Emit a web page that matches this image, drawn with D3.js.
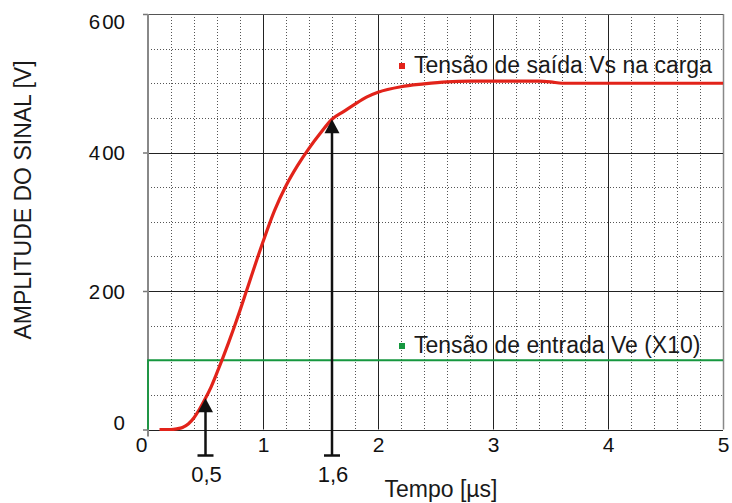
<!DOCTYPE html>
<html>
<head>
<meta charset="utf-8">
<script src="https://cdn.jsdelivr.net/npm/d3@7"></script>
<style>
  html, body { margin: 0; padding: 0; background: #fff; }
  svg { display: block; font-family: Arial, "Liberation Sans", sans-serif; }
</style>
</head>
<body>
<svg id="chart" width="732" height="503"></svg>
<script>
// Output voltage on the load (V) versus time (µs)
const timeVs = [0.1, 0.2, 0.25, 0.3, 0.35, 0.4, 0.45, 0.5, 0.55, 0.6, 0.65, 0.7, 0.75, 0.8, 0.85, 0.9, 0.95, 1.0,
                1.1, 1.2, 1.3, 1.4, 1.5, 1.6, 1.7, 1.8, 1.9, 2.0, 2.2, 2.4, 2.6, 2.8, 3.0, 3.2, 3.4, 3.5, 3.6, 3.8, 4.0, 4.5, 5.0];
const valueVs = [0, 0, 1, 3, 8, 17, 30, 45, 62, 82, 103, 125, 148, 172, 197, 222, 247, 271,
                 316, 352, 381, 406, 428, 448, 459, 470, 480, 487, 495, 499, 502, 503, 503, 503, 503, 502, 500, 500, 500, 500, 500];

// Input voltage (scaled ×10): a step at t = 0
const timeVe = [0, 0, 5];
const valueVe = [0, 100, 100];

// Rise-time markers (10 % and 90 % points)
const markerTimes = [0.5, 1.6];
const markerLabels = ["0,5", "1,6"];

const xTicks = [0, 1, 2, 3, 4, 5];
const yTicks = [0, 200, 400, 600];

const seriesNames = ["Tensão de saída Vs na carga", "Tensão de entrada Ve (X10)"];
const seriesColors = ["#e2231a", "#16973f"];

const TICK_FONT = 21;
const TITLE_FONT = 23;

const svg = d3.select("#chart");
const x = d3.scaleLinear().domain([0, 5]).range([148, 723]);
const y = d3.scaleLinear().domain([0, 600]).range([429.5, 14]);

// Minor dotted grid
const minorX = d3.range(0.2, 5, 0.2).filter(v => Math.abs(v - Math.round(v)) > 1e-6);
const minorY = d3.range(50, 600, 50).filter(v => v % 200 !== 0);
const grid = svg.append("g");
grid.selectAll(".mx").data(minorX).join("line")
  .attr("x1", d => Math.round(x(d)) + 0.5).attr("x2", d => Math.round(x(d)) + 0.5)
  .attr("y1", y(600)).attr("y2", y(0))
  .attr("stroke", "#555").attr("stroke-width", 1).attr("stroke-dasharray", "1,2");
grid.selectAll(".my").data(minorY).join("line")
  .attr("x1", x(0)).attr("x2", x(5))
  .attr("y1", d => Math.round(y(d)) + 0.5).attr("y2", d => Math.round(y(d)) + 0.5)
  .attr("stroke", "#555").attr("stroke-width", 1).attr("stroke-dasharray", "1,2");

// Major solid grid
grid.selectAll(".Mx").data(xTicks.slice(1)).join("line")
  .attr("x1", d => Math.round(x(d)) + 0.5).attr("x2", d => Math.round(x(d)) + 0.5)
  .attr("y1", y(600)).attr("y2", y(0))
  .attr("stroke", d => d === 5 ? "#888" : "#222").attr("stroke-width", d => d === 5 ? 1.5 : 1);
grid.selectAll(".My").data(yTicks).join("line")
  .attr("x1", x(0)).attr("x2", x(5))
  .attr("y1", d => Math.round(y(d)) + 0.5).attr("y2", d => Math.round(y(d)) + 0.5)
  .attr("stroke", d => d === 600 ? "#555" : "#222").attr("stroke-width", 1);

// Y axis
const yAxis = svg.append("g")
  .attr("transform", `translate(${x(0)},0)`)
  .call(d3.axisLeft(y).tickValues(yTicks).tickSize(5).tickPadding(18).tickFormat(d => d));
yAxis.select(".domain").remove();
yAxis.append("line").attr("x1", 0).attr("x2", 0).attr("y1", y(600)).attr("y2", y(0) + 7)
  .attr("stroke", "#888").attr("stroke-width", 2);
yAxis.selectAll(".tick line").attr("stroke", "#777").attr("stroke-width", 1.5);
yAxis.selectAll(".tick text")
  .attr("fill", "#111").attr("font-size", 20.5).attr("font-family", "Arial, 'Liberation Sans', sans-serif")
  .attr("dy", d => d === 600 ? "0.72em" : d === 0 ? "0.02em" : "0.35em")
  .each(function (d) {
    const s = String(d);
    const t = d3.select(this).text(null);
    if (s.length > 1) {
      t.append("tspan").text(s[0]);
      t.append("tspan").attr("dx", 2).text(s.slice(1));
    } else {
      t.text(s);
    }
  });

// X axis
const xAxis = svg.append("g")
  .attr("transform", `translate(0,${y(0)})`)
  .call(d3.axisBottom(x).tickValues(xTicks).tickSize(0).tickPadding(8).tickFormat(d => d));
xAxis.select(".domain").remove();
xAxis.selectAll(".tick text")
  .attr("fill", "#111").attr("font-size", TICK_FONT).attr("font-family", "Arial, 'Liberation Sans', sans-serif")
  .attr("dx", d => d === 0 ? -7 : 0);

// Series lines
const line = d3.line().x(d => x(d[0])).y(d => y(d[1]));
svg.append("path")
  .datum(d3.zip(timeVe, valueVe))
  .attr("d", line)
  .attr("fill", "none").attr("stroke", seriesColors[1]).attr("stroke-width", 1.8);

svg.append("path")
  .datum(d3.zip(timeVs, valueVs))
  .attr("d", line.curve(d3.curveMonotoneX))
  .attr("fill", "none").attr("stroke", seriesColors[0]).attr("stroke-width", 3.2)
  .attr("stroke-linecap", "butt");

// Rise-time arrows: from below the axis up to the curve
const vsAt = t => {
  const i = d3.bisectLeft(timeVs, t);
  const t0 = timeVs[i - 1], t1 = timeVs[i];
  return valueVs[i - 1] + (valueVs[i] - valueVs[i - 1]) * (t - t0) / (t1 - t0);
};
const arrows = svg.append("g");
markerTimes.forEach((t, i) => {
  const ax = x(t);
  const tipY = y(vsAt(t));
  const baseY = y(0) + 26;
  arrows.append("line").attr("x1", ax).attr("x2", ax).attr("y1", baseY).attr("y2", tipY + 12)
    .attr("stroke", "#111").attr("stroke-width", 2.5);
  arrows.append("line").attr("x1", ax - 8).attr("x2", ax + 8).attr("y1", baseY).attr("y2", baseY)
    .attr("stroke", "#111").attr("stroke-width", 2.5);
  arrows.append("path")
    .attr("d", `M${ax},${tipY} L${ax + 7.5},${tipY + 14} L${ax - 7.5},${tipY + 14} Z`)
    .attr("fill", "#111");
  arrows.append("text").attr("x", ax + 1).attr("y", 482)
    .attr("text-anchor", "middle").attr("font-size", TICK_FONT + 1).attr("fill", "#111")
    .text(markerLabels[i]);
});

// Series labels with small colour keys
const labelPos = [[399, 72.5], [399, 352.5]];
seriesNames.forEach((name, i) => {
  const [lx, ly] = labelPos[i];
  svg.append("rect").attr("x", lx).attr("y", ly - 9.5).attr("width", 6).attr("height", 6)
    .attr("fill", seriesColors[i]);
  svg.append("text").attr("x", lx + 15).attr("y", ly)
    .attr("font-size", TITLE_FONT).attr("fill", "#1a1a1a").text(name);
});

// Axis titles
svg.append("text").attr("x", 441).attr("y", 497).attr("text-anchor", "middle")
  .attr("font-size", TITLE_FONT).attr("fill", "#1a1a1a").text("Tempo [µs]");
svg.append("text").attr("transform", "translate(31,200) rotate(-90)").attr("text-anchor", "middle")
  .attr("font-size", TITLE_FONT).attr("fill", "#1a1a1a").text("AMPLITUDE DO SINAL [V]");
</script>
</body>
</html>
